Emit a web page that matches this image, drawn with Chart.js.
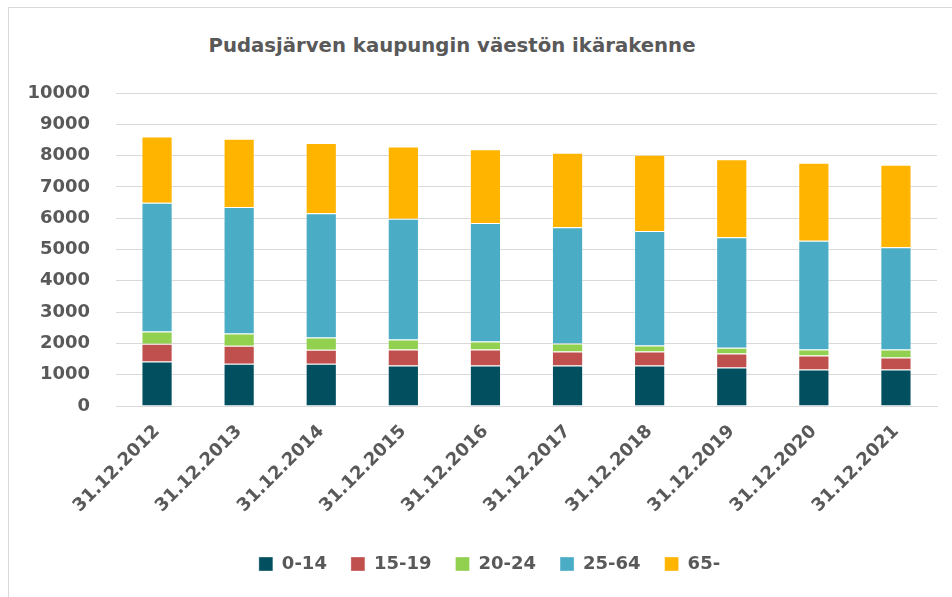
<!DOCTYPE html>
<html>
<head>
<meta charset="utf-8">
<script src="https://cdn.jsdelivr.net/npm/chart.js@4"></script>
<style>
  body { margin: 0; background: #fff; }
  .wrap { position: relative; width: 952px; height: 597px; }
  .frame { position: absolute; left: 8px; top: 7px; right: -2px; bottom: -2px; border-left: 1px solid #d9d9d9; border-top: 1px solid #d9d9d9; }
  .title { position: absolute; left: 0; width: 904px; top: 34px; text-align: center; color: #595959;
    font: bold 19.7px 'DejaVu Sans'; line-height: 24px; }
  canvas { position: absolute; left: 0; top: 0; }
</style>
</head>
<body>
<div class="wrap">
  <div class="frame"></div>
  <div class="title">Pudasjärven kaupungin väestön ikärakenne</div>
  <canvas id="chart" width="952" height="597"></canvas>
</div>
<script>
const years = ['31.12.2012', '31.12.2013', '31.12.2014', '31.12.2015', '31.12.2016',
  '31.12.2017', '31.12.2018', '31.12.2019', '31.12.2020', '31.12.2021'];
const age0_14 = [1420, 1350, 1350, 1295, 1295, 1295, 1295, 1230, 1165, 1165];
const age15_19 = [565, 575, 445, 510, 510, 445, 445, 445, 450, 385];
const age20_24 = [395, 395, 390, 320, 255, 255, 190, 190, 190, 255];
const age25_64 = [4110, 4035, 3970, 3855, 3790, 3715, 3665, 3525, 3475, 3270];
const age65 = [2120, 2185, 2250, 2310, 2350, 2380, 2430, 2490, 2490, 2630];
const yTicks = [0, 1000, 2000, 3000, 4000, 5000, 6000, 7000, 8000, 9000, 10000];

const grey = '#595959';
const font = 'DejaVu Sans';

function series(label, data, color) {
  return {
    label: label,
    data: data,
    backgroundColor: color,
    borderColor: 'rgba(255,255,255,0.35)',
    borderWidth: 1,
    barPercentage: 0.38,
    categoryPercentage: 1
  };
}

// the legend in the original sits a bit right of the canvas centre
const legendShift = {
  id: 'legendShift',
  afterLayout(chart) {
    chart.legend.left += 21;
    chart.legend.right += 21;
  }
};

new Chart(document.getElementById('chart'), {
  type: 'bar',
  data: {
    labels: years,
    datasets: [
      series('0-14', age0_14, '#02505f'),
      series('15-19', age15_19, '#c0504d'),
      series('20-24', age20_24, '#92d050'),
      series('25-64', age25_64, '#4bacc6'),
      series('65-', age65, '#ffb500')
    ]
  },
  plugins: [legendShift],
  options: {
    responsive: false,
    animation: false,
    layout: { padding: { left: 0, right: 15, top: 93, bottom: 14 } },
    plugins: {
      legend: {
        position: 'bottom',
        labels: {
          color: grey,
          font: { family: font, size: 18, weight: 'bold' },
          boxWidth: 14,
          boxHeight: 14,
          padding: 24
        }
      },
      tooltip: { enabled: false }
    },
    scales: {
      x: {
        stacked: true,
        grid: { display: false, drawTicks: false },
        border: { color: '#d9d9d9' },
        ticks: {
          color: grey,
          font: { family: font, size: 18, weight: 'bold' },
          minRotation: 45,
          maxRotation: 45,
          padding: 15
        },
        afterFit: (s) => { s.height = 125; }
      },
      y: {
        stacked: true,
        min: 0,
        max: 10000,
        afterBuildTicks: (s) => { s.ticks = yTicks.map(v => ({ value: v })); },
        grid: { color: '#d9d9d9', drawTicks: false },
        border: { display: false },
        ticks: {
          color: grey,
          font: { family: font, size: 18, weight: 'bold' },
          padding: 26,
          callback: (v) => String(v)
        },
        afterFit: (s) => { s.width = 116; }
      }
    }
  }
});
</script>
</body>
</html>
